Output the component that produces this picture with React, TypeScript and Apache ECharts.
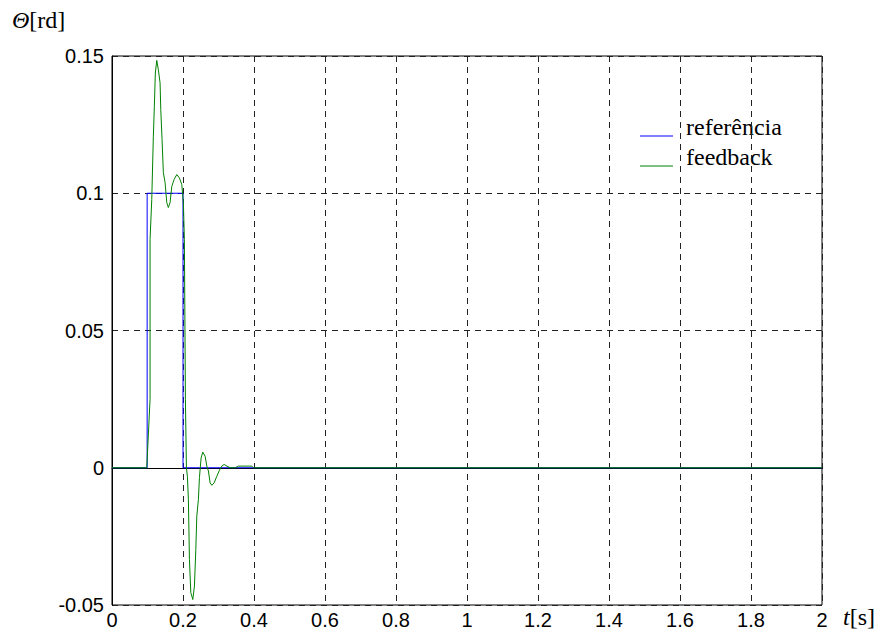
import React, { useEffect, useRef } from "react";
import * as echarts from "echarts";

const xTicks = [0, 0.2, 0.4, 0.6, 0.8, 1, 1.2, 1.4, 1.6, 1.8, 2];
const yTicks = [-0.05, 0, 0.05, 0.1, 0.15];

const refT = [0, 0.099, 0.099, 0.2, 0.2, 2];
const refY = [0, 0, 0.1, 0.1, 0, 0];

const fbT = [
  0, 0.0979, 0.1072, 0.1072, 0.112, 0.1165, 0.1193, 0.1221, 0.1261, 0.1306, 0.1354, 0.1374,
  0.141, 0.1447, 0.1495, 0.1543, 0.1588, 0.1636, 0.1684, 0.1749, 0.1825, 0.1898, 0.1966,
  0.2011, 0.2039, 0.2068, 0.2096, 0.2124, 0.2152, 0.2181, 0.222, 0.2276, 0.2322, 0.2361,
  0.2389, 0.2434, 0.2463, 0.251, 0.2558, 0.2623, 0.2671, 0.2716, 0.2764, 0.2812, 0.2877,
  0.2953, 0.3027, 0.3094, 0.3159, 0.3236, 0.3329, 0.347, 0.3563, 0.394, 0.3986, 2,
];
const fbY = [
  0, 0, 0.0249, 0.0831, 0.0977, 0.1208, 0.1317, 0.1438, 0.1484, 0.145, 0.1402, 0.1305,
  0.1196, 0.1075, 0.1039, 0.0966, 0.0948, 0.0966, 0.1025, 0.105, 0.1068, 0.1056, 0.1032,
  0.0965, 0.0831, 0.0249, 0, -0.0031, -0.0115, -0.0334, -0.0455, -0.048, -0.0431, -0.0298,
  -0.0176, -0.0115, -0.0036, 0.0036, 0.0057, 0.0042, 0.0006, -0.0012, -0.0055, -0.0064,
  -0.0055, -0.0031, -0.0009, 0.0006, 0.0012, 0.0006, 0, 0, 0.0006, 0.0006, 0, 0,
];

const seriesNames = ["referência", "feedback"];
const seriesColors = ["#0000ff", "#008000"];

const SERIF = "'Liberation Serif', 'Times New Roman', serif";

export default function App() {
  const ref = useRef<HTMLDivElement>(null);
  useEffect(() => {
    const chart = echarts.init(ref.current!, null, { renderer: "svg" });
    const gridLine = { show: true, lineStyle: { color: "#222", type: [6, 5] as any, width: 1 } };
    const lab = { color: "#000", fontFamily: "Liberation Sans, Arial", fontSize: 20 };
    chart.setOption({
      animation: false,
      backgroundColor: "#fff",
      grid: { left: 112, top: 56, width: 710, height: 549, show: true, borderColor: "#000", borderWidth: 1, backgroundColor: "transparent" },
      xAxis: {
        type: "value",
        min: xTicks[0],
        max: xTicks[xTicks.length - 1],
        interval: 0.2,
        axisLine: { show: true, lineStyle: { color: "#000" } },
        axisTick: { show: false },
        splitLine: gridLine,
        axisLabel: { ...lab, margin: 5, formatter: (v: number) => String(+v.toFixed(2)) },
      },
      yAxis: {
        type: "value",
        min: yTicks[0],
        max: yTicks[yTicks.length - 1],
        interval: 0.05,
        axisLine: { show: true, lineStyle: { color: "#000" } },
        axisTick: { show: false },
        splitLine: gridLine,
        axisLabel: { ...lab, margin: 8, formatter: (v: number) => String(+v.toFixed(2)) },
      },
      series: [
        {
          name: seriesNames[0],
          type: "line",
          data: refT.map((t, i) => [t, refY[i]]),
          symbol: "none",
          lineStyle: { color: seriesColors[0], width: 1 },
          z: 2,
        },
        {
          name: seriesNames[1],
          type: "line",
          data: fbT.map((t, i) => [t, fbY[i]]),
          symbol: "none",
          lineStyle: { color: seriesColors[1], width: 1 },
          z: 3,
        },
      ],
      graphic: [
        { type: "line", shape: { x1: 640, y1: 136, x2: 673, y2: 136 }, style: { stroke: seriesColors[0], lineWidth: 1 } },
        { type: "line", shape: { x1: 640, y1: 166, x2: 673, y2: 166 }, style: { stroke: seriesColors[1], lineWidth: 1 } },
        { type: "text", x: 686, y: 127, style: { text: seriesNames[0], fill: "#000", font: `24px ${SERIF}`, verticalAlign: "middle" } },
        { type: "text", x: 686, y: 157, style: { text: seriesNames[1], fill: "#000", font: `24px ${SERIF}`, verticalAlign: "middle" } },
        {
          type: "text",
          x: 12,
          y: 20,
          style: {
            text: "{i|Θ}{n|[rd]}",
            fill: "#000",
            verticalAlign: "middle",
            rich: {
              i: { fontStyle: "italic", fontFamily: SERIF, fontSize: 24 },
              n: { fontFamily: SERIF, fontSize: 24 },
            },
          },
        },
        {
          type: "text",
          x: 843,
          y: 617,
          style: {
            text: "{i|t}{n|[s]}",
            fill: "#000",
            verticalAlign: "middle",
            rich: {
              i: { fontStyle: "italic", fontFamily: SERIF, fontSize: 24 },
              n: { fontFamily: SERIF, fontSize: 24 },
            },
          },
        },
      ],
    });
    return () => chart.dispose();
  }, []);
  return <div ref={ref} style={{ position: "fixed", left: 0, top: 0, width: 881, height: 632 }} />;
}
